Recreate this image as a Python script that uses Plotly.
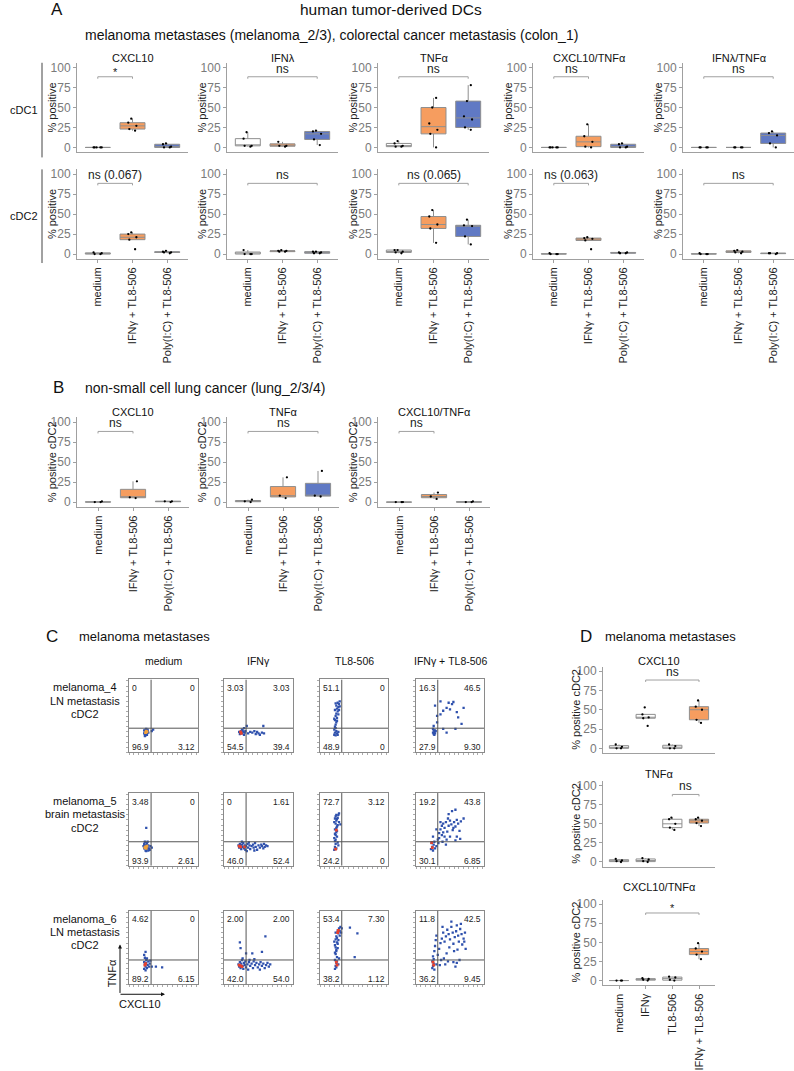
"""human tumor-derived DCs: multi-panel figure (box plots + flow cytometry dot plots)."""

import plotly.graph_objects as go

W, H = 794, 1071
FONT = "Arial, Liberation Sans, sans-serif"
ORANGE = "#F69D5F"
BLUE = "#6079C4"
WHITE = "#FFFFFF"
BOX_LINE = "#8f8f8f"
AXIS = "#a0a0a0"
DOT = "#2f51ad"
HOT = "#e8412c"
WARM = "#f3a23a"

# ---------------- data ----------------
groups3 = ["medium", "IFNγ + TL8-506", "Poly(I:C) + TL8-506"]
groups4 = ["medium", "IFNγ", "TL8-506", "IFNγ + TL8-506"]
readouts_a = ["CXCL10", "IFNλ", "TNFα", "CXCL10/TNFα", "IFNλ/TNFα"]
readouts_b = ["CXCL10", "TNFα", "CXCL10/TNFα"]
readouts_d = ["CXCL10", "TNFα", "CXCL10/TNFα"]

# A, cDC1: medium / IFNγ + TL8-506 / Poly(I:C) + TL8-506
a1_cxcl10 = [[0, 0, 0, 0, 0], [21, 23, 27, 31, 36], [0, 0, 1, 4, 5]]
a1_ifnl = [[1, 2, 2, 11, 19], [1, 2, 2, 7], [3, 10, 17, 20, 21]]
a1_tnfa = [[1, 1, 2, 5, 8], [0, 17, 22, 30, 50, 62], [22, 25, 35, 39, 58, 78]]
a1_cxcl10_tnfa = [[0, 0, 0, 0, 0], [0, 1, 7, 14, 29], [0, 0, 1, 4, 5]]
a1_ifnl_tnfa = [[0, 0, 0, 0], [0, 0, 0, 0], [0, 5, 15, 18, 20]]
# A, cDC2
a2_cxcl10 = [[0, 0, 1, 2], [6, 18, 21, 25, 27], [1, 2, 2, 3, 4]]
a2_ifnl = [[0, 0, 0, 5], [3, 3, 4, 4, 5], [1, 1, 2, 3, 3]]
a2_tnfa = [[1, 2, 3, 5, 5], [14, 32, 37, 47, 55], [12, 22, 35, 36, 43]]
a2_cxcl10_tnfa = [[0, 0, 0, 1], [6, 17, 19, 20, 21], [1, 1, 2, 2]]
a2_ifnl_tnfa = [[0, 0, 0, 1], [1, 2, 3, 4, 5], [0, 1, 1, 1]]
a1_sig = [(0, 1, "*"), (0, 2, "ns"), (0, 2, "ns"), (0, 1, "ns"), (0, 2, "ns")]
a2_sig = [(0, 1, "ns (0.067)"), (0, 2, "ns"), (0, 2, "ns (0.065)"),
          (0, 1, "ns (0.063)"), (0, 2, "ns")]

# B, lung cDC2
b_cxcl10 = [[0, 0, 1], [5, 6, 26], [0, 1, 1]]
b_tnfa = [[0, 1, 3], [5, 8, 31], [7, 8, 39]]
b_cxcl10_tnfa = [[0, 0, 0], [4, 7, 12], [0, 0, 1]]
b_sig = [(0, 1, "ns"), (0, 2, "ns"), (0, 1, "ns")]

# D, melanoma cDC2: medium / IFNγ / TL8-506 / IFNγ + TL8-506
d_cxcl10 = [[0, 0, 2, 5], [29, 39, 40, 44, 53], [0, 0, 3, 5], [33, 37, 50, 54, 62]]
d_tnfa = [[0, 1, 2, 4], [0, 1, 3, 5], [42, 45, 50, 56, 58], [47, 51, 54, 56, 58]]
d_cxcl10_tnfa = [[0, 0, 0], [0, 1, 2, 3], [0, 1, 4, 5], [28, 34, 38, 42, 49]]
d_sig = [(1, 3, "ns"), (2, 3, "ns"), (1, 3, "*")]

# C, flow dot plots (CXCL10 x, TNFα y, arbitrary display units 0-100)
m4_medium = [(22, 30), (23, 28), (24, 31), (25, 27), (23, 25), (24, 23), (26, 26), (27, 29),
             (25, 32), (22, 26), (26, 24), (24, 28), (28, 27), (23, 22), (27, 31), (35, 31),
             (33, 29), (25, 25)]
m4_medium_hi = [(25, 29), (24, 27), (26, 28)]
m4_ifn = [(22, 28), (24, 27), (25, 29), (26, 26), (27, 30), (28, 28), (30, 27), (23, 25),
          (26, 31), (29, 33), (31, 29), (33, 36), (38, 28), (41, 27), (44, 29), (46, 25),
          (48, 28), (50, 26), (52, 24), (55, 27), (58, 26), (57, 36), (35, 26), (29, 24)]
m4_ifn_hi = [(24, 28), (25, 26)]
m4_tl8 = [(21, 24), (22, 27), (23, 23), (24, 29), (21, 31), (25, 26), (22, 35), (23, 38),
          (24, 41), (22, 44), (25, 47), (23, 50), (24, 53), (26, 56), (22, 58), (25, 60),
          (27, 62), (24, 64), (28, 66), (26, 68), (29, 70), (21, 46), (23, 33), (27, 28),
          (26, 24), (28, 58), (29, 63), (23, 67), (25, 43), (27, 52)]
m4_tl8_hi = []
m4_combo = [(26, 25), (28, 30), (26, 36), (31, 41), (28, 64), (36, 70), (40, 57), (45, 61),
            (48, 68), (53, 66), (55, 69), (50, 59), (60, 55), (62, 48), (67, 39), (58, 32),
            (40, 32), (36, 52), (31, 50), (45, 27), (70, 61), (25, 27), (27, 28), (26, 30),
            (28, 26), (25, 32), (29, 29), (27, 24)]
m4_combo_hi = []

m5_medium = [(25, 52), (22, 30), (23, 27), (24, 25), (25, 29), (26, 23), (27, 26), (24, 21),
             (22, 24), (28, 28), (29, 24), (26, 31), (23, 33), (30, 22), (31, 27), (21, 27),
             (25, 20), (27, 33), (33, 25), (28, 21)]
m5_medium_hi = [(24, 26), (25, 24), (26, 27), (23, 25)]
m5_ifn = [(21, 28), (22, 25), (23, 30), (24, 27), (25, 23), (26, 29), (27, 26), (28, 31),
          (29, 24), (30, 28), (31, 22), (32, 27), (34, 30), (35, 25), (37, 28), (38, 23),
          (40, 27), (42, 29), (43, 25), (45, 31), (46, 26), (48, 22), (50, 28), (52, 25),
          (54, 29), (55, 27), (57, 24), (59, 26), (61, 28), (63, 27), (36, 32), (44, 21),
          (33, 20), (26, 33), (58, 30)]
m5_ifn_hi = [(22, 27), (24, 26), (30, 26)]
m5_tl8 = [(21, 22), (22, 26), (23, 30), (24, 24), (22, 34), (21, 38), (23, 42), (24, 46),
          (22, 50), (25, 54), (23, 58), (24, 62), (26, 66), (27, 70), (28, 72), (23, 68),
          (25, 64), (21, 60), (26, 56), (24, 52), (22, 44), (25, 40), (23, 36), (26, 32),
          (27, 28), (25, 48), (30, 57), (28, 60), (22, 65), (24, 70)]
m5_tl8_hi = [(24, 49), (23, 23)]
m5_combo = [(22, 23), (24, 26), (26, 29), (23, 31), (28, 24), (25, 21), (30, 27), (27, 33),
            (32, 36), (34, 45), (36, 50), (38, 55), (40, 58), (42, 52), (44, 60), (46, 47),
            (48, 55), (50, 62), (52, 57), (54, 49), (56, 60), (58, 54), (60, 63), (62, 58),
            (64, 48), (66, 61), (53, 75), (58, 77), (48, 71), (34, 38), (38, 42), (42, 40),
            (45, 36), (50, 40), (60, 40), (70, 65), (36, 60), (30, 50), (47, 65), (55, 52),
            (40, 46), (33, 31), (44, 29), (58, 35), (65, 37), (25, 40), (39, 33)]
m5_combo_hi = [(23, 32), (24, 25)]

m6_medium = [(22, 40), (23, 36), (24, 44), (25, 33), (22, 30), (23, 27), (24, 24), (26, 22),
             (25, 29), (27, 26), (28, 31), (22, 21), (26, 35), (29, 24), (30, 28), (24, 19),
             (33, 24), (39, 24), (48, 23), (31, 32)]
m6_medium_hi = [(23, 26), (24, 28)]
m6_ifn = [(23, 57), (24, 49), (32, 42), (41, 42), (55, 44), (60, 65), (21, 27), (22, 24),
          (23, 30), (24, 22), (25, 28), (26, 33), (27, 25), (28, 21), (29, 29), (30, 26),
          (31, 31), (32, 23), (34, 27), (35, 20), (36, 30), (38, 25), (40, 28), (42, 22),
          (43, 31), (45, 26), (47, 29), (49, 23), (51, 27), (53, 30), (55, 25), (57, 28),
          (59, 22), (61, 26), (63, 29), (65, 24), (67, 27), (37, 33), (44, 34), (52, 20),
          (27, 35)]
m6_ifn_hi = [(22, 26), (24, 25), (26, 24)]
m6_tl8 = [(22, 21), (23, 25), (24, 29), (22, 33), (25, 37), (23, 41), (24, 45), (26, 49),
          (22, 53), (25, 57), (23, 61), (24, 65), (27, 69), (26, 73), (28, 76), (30, 78),
          (32, 76), (29, 72), (23, 70), (25, 63), (21, 58), (26, 55), (24, 47), (22, 43),
          (25, 31), (27, 27), (24, 23), (28, 35), (29, 66), (31, 70), (44, 77), (55, 69),
          (51, 37), (23, 50), (27, 60)]
m6_tl8_hi = [(26, 70), (25, 26), (24, 30), (27, 73)]
m6_combo = [(24, 22), (25, 25), (26, 28), (24, 31), (27, 20), (26, 34), (25, 38), (27, 45),
            (28, 52), (29, 60), (30, 66), (32, 40), (34, 48), (36, 56), (38, 62), (40, 70),
            (42, 58), (44, 65), (46, 74), (48, 68), (50, 61), (52, 78), (54, 70), (55, 55),
            (57, 64), (59, 72), (60, 80), (62, 66), (63, 58), (65, 75), (67, 68), (68, 54),
            (70, 62), (72, 70), (73, 48), (61, 47), (56, 45), (49, 50), (45, 42), (41, 35),
            (37, 33), (47, 31), (55, 30), (60, 29), (64, 33), (35, 26), (30, 27), (43, 27),
            (58, 24), (66, 82), (52, 85), (39, 78), (71, 58)]
m6_combo_hi = [(25, 30), (26, 26)]

# quadrant frequencies: top-left, top-right, bottom-left, bottom-right
m4_quads = [("0", "0", "96.9", "3.12"), ("3.03", "3.03", "54.5", "39.4"),
            ("51.1", "0", "48.9", "0"), ("16.3", "46.5", "27.9", "9.30")]
m5_quads = [("3.48", "0", "93.9", "2.61"), ("0", "1.61", "46.0", "52.4"),
            ("72.7", "3.12", "24.2", "0"), ("19.2", "43.8", "30.1", "6.85")]
m6_quads = [("4.62", "0", "89.2", "6.15"), ("2.00", "2.00", "42.0", "54.0"),
            ("53.4", "7.30", "38.2", "1.12"), ("11.8", "42.5", "36.2", "9.45")]
gate_x, gate_y = 32, 33

fig = go.Figure()
n_axes = [0]
Y_RANGE = [-6.25, 106]


def add_axes(left, top, right, bottom, xcfg, ycfg):
    """Create an x/y axis pair from pixel box coordinates."""
    n_axes[0] += 1
    s = "" if n_axes[0] == 1 else str(n_axes[0])
    fig.update_layout(**{
        f"xaxis{s}": dict(domain=[left / W, right / W], anchor=f"y{s}", **xcfg),
        f"yaxis{s}": dict(domain=[1 - bottom / H, 1 - top / H], anchor=f"x{s}", **ycfg),
    })
    return f"x{s}", f"y{s}"


def text(xp, yp, s, size=11, color="#111", anchor="center", angle=0):
    fig.add_annotation(x=xp / W, y=1 - yp / H, xref="paper", yref="paper", text=s,
                       showarrow=False, xanchor=anchor, yanchor="middle", textangle=angle,
                       font=dict(size=size, color=color, family=FONT))


def box_panel(box, data, labels, colors, sig, ytitle, show_x, title_dx=-25):
    left, top, right, bottom = box
    n = len(labels)
    xcfg = dict(range=[-0.6, n - 1 + 0.6], tickvals=list(range(n)), ticktext=labels,
                showticklabels=show_x, tickangle=-90, showline=True, linecolor=AXIS,
                ticks="outside" if show_x else "", ticklen=3, tickcolor=AXIS,
                showgrid=False, zeroline=False, tickfont=dict(size=11, color="#222"))
    ycfg = dict(range=Y_RANGE, tickvals=[0, 25, 50, 75, 100], showline=True,
                linecolor=AXIS, ticks="outside", ticklen=3, tickcolor=AXIS,
                showgrid=False, zeroline=False, tickfont=dict(size=12, color="#7a7a7a"))
    xa, ya = add_axes(left, top, right, bottom, xcfg, ycfg)
    for i, (vals, col) in enumerate(zip(data, colors)):
        fig.add_trace(go.Box(
            x=[i] * len(vals), y=vals, xaxis=xa, yaxis=ya, width=0.72,
            boxpoints="all", jitter=0.4, pointpos=0, quartilemethod="inclusive",
            whiskerwidth=0, fillcolor=col, line=dict(color=BOX_LINE, width=1),
            marker=dict(size=2.3, color="black"), showlegend=False, hoverinfo="skip"))
    # y title sits close to the tick labels, centred on the 0-100 span
    per = (bottom - top) / (Y_RANGE[1] - Y_RANGE[0])
    mid = bottom - (50 - Y_RANGE[0]) * per
    text(left + title_dx, mid, ytitle, size=11, color="#222", angle=-90)
    x0, x1, lab = sig
    fig.add_shape(type="path", path=f"M {x0},86 L {x0},88.5 L {x1},88.5 L {x1},86",
                  xref=xa, yref=ya, line=dict(color=AXIS, width=1))
    star = lab == "*"
    fig.add_annotation(x=(x0 + x1) / 2, y=88.5, xref=xa, yref=ya, text=lab, showarrow=False,
                       yanchor="bottom", yshift=-3 if star else -1,
                       font=dict(size=11 if star else 12, color="#222", family=FONT))


def flow_panel(box, pts, hot, hot_color, quads):
    left, top, right, bottom = box
    cfg = dict(range=[0, 100], showline=True, mirror=True, linecolor="#8a8a8a",
               showticklabels=False, ticks="outside", ticklen=2, tickcolor="#aaaaaa",
               dtick=7, showgrid=False, zeroline=False)
    xa, ya = add_axes(left, top, right, bottom, dict(cfg), dict(cfg))
    for sh in (dict(x0=gate_x, x1=gate_x, y0=0, y1=100), dict(x0=0, x1=100, y0=gate_y, y1=gate_y)):
        fig.add_shape(type="line", xref=xa, yref=ya, line=dict(color="#555", width=1), **sh)
    fig.add_trace(go.Scatter(x=[p[0] for p in pts], y=[p[1] for p in pts], xaxis=xa, yaxis=ya,
                             mode="markers", marker=dict(size=2.3, color=DOT, symbol="square"),
                             showlegend=False, hoverinfo="skip"))
    if hot:
        fig.add_trace(go.Scatter(x=[p[0] for p in hot], y=[p[1] for p in hot], xaxis=xa, yaxis=ya,
                                 mode="markers", marker=dict(size=2.8, color=hot_color, symbol="square"),
                                 showlegend=False, hoverinfo="skip"))
    tl, tr, bl, br = quads
    for xv, yv, s, anc in ((2, 88, tl, "left"), (98, 88, tr, "right"),
                           (2, 7, bl, "left"), (98, 7, br, "right")):
        fig.add_annotation(x=xv, y=yv, xref=xa, yref=ya, text=s, showarrow=False,
                           xanchor=anc, yanchor="middle",
                           font=dict(size=8.5, color="#222", family=FONT))


# ---------------- panel A ----------------
text(57, 8, "A", size=17)
text(391, 8, "human tumor-derived DCs", size=15.5)
text(83, 33, "melanoma metastases (melanoma_2/3), colorectal cancer metastasis (colon_1)",
     size=14, anchor="left")
a_left = [77, 227, 378, 533, 683]
a1_data = [a1_cxcl10, a1_ifnl, a1_tnfa, a1_cxcl10_tnfa, a1_ifnl_tnfa]
a2_data = [a2_cxcl10, a2_ifnl, a2_tnfa, a2_cxcl10_tnfa, a2_ifnl_tnfa]
cols3 = [WHITE, ORANGE, BLUE]
for k, lx in enumerate(a_left):
    box_panel((lx, 61, lx + 111, 151), a1_data[k], groups3, cols3, a1_sig[k], "% positive", False)
    text(lx + 56, 56, readouts_a[k])
    box_panel((lx, 168, lx + 111, 258), a2_data[k], groups3, cols3, a2_sig[k], "% positive", True)
for y0, y1, lab, ly in ((61, 156, "cDC1", 108), (168, 262, "cDC2", 215)):
    fig.add_shape(type="line", xref="paper", yref="paper", x0=42 / W, x1=42 / W,
                  y0=1 - y0 / H, y1=1 - y1 / H, line=dict(color="#444", width=1))
    text(24, ly, lab, size=11)

# ---------------- panel B ----------------
text(58, 387, "B", size=17)
text(83, 387, "non-small cell lung cancer (lung_2/3/4)", size=14, anchor="left")
b_data = [b_cxcl10, b_tnfa, b_cxcl10_tnfa]
for k, lx in enumerate([77, 227, 378]):
    box_panel((lx, 417, lx + 112, 507), b_data[k], groups3, cols3, b_sig[k],
              "% positive cDC2", True)
    text(lx + 56, 412, readouts_b[k])

# ---------------- panel C ----------------
text(52, 637, "C", size=17)
text(77, 637, "melanoma metastases", size=13, anchor="left")
c_cols = [(129, 198), (224, 293), (320, 388), (416, 484)]
c_rows = [(680, 753), (794, 867), (912, 986)]
for (cx0, cx1), lab in zip(c_cols, groups4):
    text((cx0 + cx1) / 2, 661, lab, size=10.5)
row_labels = [("melanoma_4", "LN metastasis", "cDC2"),
              ("melanoma_5", "brain metastasis", "cDC2"),
              ("melanoma_6", "LN metastasis", "cDC2")]
row_pts = [
    [(m4_medium, m4_medium_hi, WARM), (m4_ifn, m4_ifn_hi, HOT), (m4_tl8, m4_tl8_hi, HOT),
     (m4_combo, m4_combo_hi, HOT)],
    [(m5_medium, m5_medium_hi, WARM), (m5_ifn, m5_ifn_hi, HOT), (m5_tl8, m5_tl8_hi, HOT),
     (m5_combo, m5_combo_hi, HOT)],
    [(m6_medium, m6_medium_hi, HOT), (m6_ifn, m6_ifn_hi, HOT), (m6_tl8, m6_tl8_hi, HOT),
     (m6_combo, m6_combo_hi, HOT)],
]
row_quads = [m4_quads, m5_quads, m6_quads]
for r, (ry0, ry1) in enumerate(c_rows):
    for li, line in enumerate(row_labels[r]):
        text(85, ry0 + 8 + li * 13.5, line, size=11)
    for c, (cx0, cx1) in enumerate(c_cols):
        pts, hot, hc = row_pts[r][c]
        flow_panel((cx0, ry0, cx1, ry1), pts, hot, hc, row_quads[r][c])

# axis arrows
fig.add_annotation(x=120 / W, y=1 - 946 / H, xref="paper", yref="paper", ax=0, ay=50,
                   text="", showarrow=True, arrowhead=2, arrowsize=0.8, arrowwidth=1,
                   arrowcolor="#111")
fig.add_annotation(x=165 / W, y=1 - 996 / H, xref="paper", yref="paper", ax=-46, ay=0,
                   text="", showarrow=True, arrowhead=2, arrowsize=0.8, arrowwidth=1,
                   arrowcolor="#111")
text(112, 975, "TNFα", size=11, angle=-90)
text(140, 1006, "CXCL10", size=11)

# ---------------- panel D ----------------
text(586, 637, "D", size=17)
text(603, 637, "melanoma metastases", size=13, anchor="left")
d_data = [d_cxcl10, d_tnfa, d_cxcl10_tnfa]
d_boxes = [(667, 754), (782, 868), (901, 987)]
d_title_y = [661, 775, 888]
cols4 = [WHITE, WHITE, WHITE, ORANGE]
for k, (t, b) in enumerate(d_boxes):
    box_panel((603, t, 715, b), d_data[k], groups4, cols4, d_sig[k], "% positive cDC2",
              k == 2, title_dx=-27)
    text(659, d_title_y[k], readouts_d[k])

fig.update_layout(
    width=W, height=H, margin=dict(l=0, r=0, t=0, b=0),
    paper_bgcolor="white", plot_bgcolor="white", showlegend=False,
    font=dict(family=FONT, color="#222"),
)

# drop the browser's default 8px body margin so pixel positions line up
fig.write_html("out.html", config={"displayModeBar": False},
               post_script="document.body.style.margin = '0';")
